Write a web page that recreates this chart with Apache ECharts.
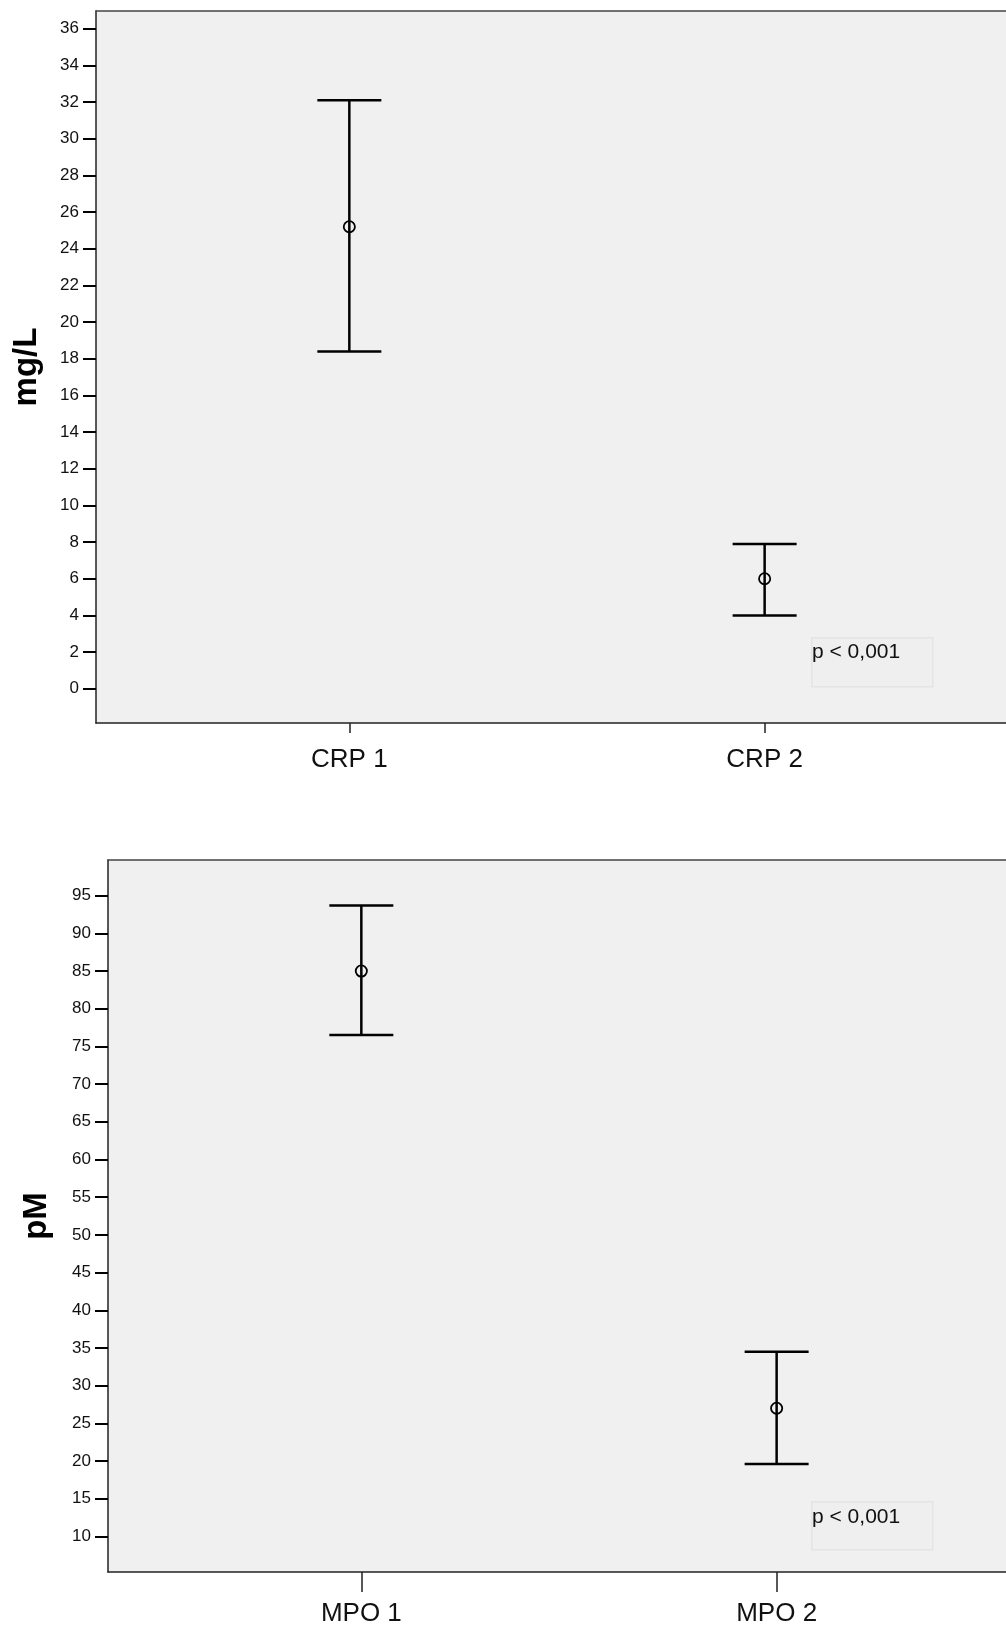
<!DOCTYPE html>
<html>
<head>
<meta charset="utf-8">
<script src="https://cdn.jsdelivr.net/npm/echarts@6/dist/echarts.min.js"></script>
<style>
html,body{margin:0;padding:0;background:#fff;}
#chart{width:1006px;height:1627px;}
</style>
</head>
<body>
<div id="chart"></div>
<script>
// ---- data ----
const crpCategories = ['CRP 1', 'CRP 2'];
const crpMean  = [25.2, 6.0];
const crpLower = [18.4, 4.0];
const crpUpper = [32.1, 7.9];
const crpTicks = [0, 2, 4, 6, 8, 10, 12, 14, 16, 18, 20, 22, 24, 26, 28, 30, 32, 34, 36];

const mpoCategories = ['MPO 1', 'MPO 2'];
const mpoMean  = [85.0, 27.0];
const mpoLower = [76.5, 19.6];
const mpoUpper = [93.7, 34.5];
const mpoTicks = [10, 15, 20, 25, 30, 35, 40, 45, 50, 55, 60, 65, 70, 75, 80, 85, 90, 95];

const pText = 'p < 0,001';
const crpName = 'mg/L';
const mpoName = 'pM';

// ---- build ----
const FONT = 'Liberation Sans, Arial, sans-serif';
const catPos = [1, 2];
const PX_PER_CAT = 415.3;

function rows(mean, lo, hi) {
  return mean.map((m, i) => [catPos[i], lo[i], hi[i], m]);
}

function renderErr(params, api) {
  const x = api.value(0);
  const top = api.coord([x, api.value(2)]);
  const bot = api.coord([x, api.value(1)]);
  const mid = api.coord([x, api.value(3)]);
  const hw = 32;
  const st = { stroke: '#000', lineWidth: 2.5, fill: null };
  return {
    type: 'group',
    children: [
      { type: 'line', shape: { x1: top[0], y1: top[1], x2: bot[0], y2: bot[1] }, style: st },
      { type: 'line', shape: { x1: top[0] - hw, y1: top[1], x2: top[0] + hw, y2: top[1] }, style: st },
      { type: 'line', shape: { x1: bot[0] - hw, y1: bot[1], x2: bot[0] + hw, y2: bot[1] }, style: st },
      { type: 'circle', shape: { cx: mid[0], cy: mid[1], r: 5.6 }, style: { stroke: '#000', lineWidth: 1.8, fill: 'rgba(0,0,0,0)' } }
    ]
  };
}

function xAxisCfg(gridIndex, cats, tickLen, margin, widthPx) {
  return {
    type: 'value', gridIndex: gridIndex, min: 0.39, max: 0.39 + widthPx / PX_PER_CAT,
    splitLine: { show: false },
    axisLine: { show: true, onZero: false, lineStyle: { color: '#222', width: 1.5 } },
    axisTick: { show: true, customValues: catPos, length: tickLen, lineStyle: { color: '#222', width: 1.5 } },
    axisLabel: { show: true, customValues: catPos, margin: margin, color: '#111', fontSize: 26, fontFamily: FONT,
      formatter: v => cats[Math.round(v) - 1] }
  };
}

function topAxisCfg(gridIndex, widthPx) {
  return {
    type: 'value', gridIndex: gridIndex, position: 'top', min: 0.39, max: 0.39 + widthPx / PX_PER_CAT,
    splitLine: { show: false },
    axisLine: { show: true, onZero: false, lineStyle: { color: '#444', width: 1.5 } },
    axisTick: { show: false }, axisLabel: { show: false }
  };
}

function yAxisCfg(gridIndex, min, max, ticks, name, gap) {
  return {
    type: 'value', gridIndex: gridIndex, min: min, max: max,
    name: name, nameLocation: 'middle', nameRotate: 90, nameGap: gap,
    nameTextStyle: { fontSize: 33, fontWeight: 'bold', color: '#000', fontFamily: FONT },
    splitLine: { show: false },
    axisLine: { show: true, onZero: false, lineStyle: { color: '#222', width: 1.5 } },
    axisTick: { show: true, customValues: ticks, length: 13, lineStyle: { color: '#000', width: 2 } },
    axisLabel: { show: true, customValues: ticks, margin: 17, color: '#111', fontSize: 17, fontFamily: FONT }
  };
}

const W1 = 1006 - 96, W2 = 1006 - 108;

const option = {
  backgroundColor: '#fff',
  animation: false,
  grid: [
    { left: 96, top: 11, right: 0, height: 712, show: true, backgroundColor: '#f0f0f0', borderWidth: 0 },
    { left: 108, top: 860, right: 0, height: 712, show: true, backgroundColor: '#f0f0f0', borderWidth: 0 }
  ],
  xAxis: [
    xAxisCfg(0, crpCategories, 10, 24, W1),
    xAxisCfg(1, mpoCategories, 20, 29, W2),
    topAxisCfg(0, W1),
    topAxisCfg(1, W2)
  ],
  yAxis: [
    yAxisCfg(0, -1.87, 36.97, crpTicks, crpName, 53),
    yAxisCfg(1, 5.28, 99.73, mpoTicks, mpoName, 55)
  ],
  series: [
    { type: 'custom', xAxisIndex: 0, yAxisIndex: 0, renderItem: renderErr, data: rows(crpMean, crpLower, crpUpper), clip: false },
    { type: 'custom', xAxisIndex: 1, yAxisIndex: 1, renderItem: renderErr, data: rows(mpoMean, mpoLower, mpoUpper), clip: false }
  ],
  graphic: [
    { type: 'rect', left: 811, top: 637, shape: { width: 121, height: 49 }, style: { fill: '#efefef', stroke: '#e4e4e4', lineWidth: 1.5 } },
    { type: 'text', left: 812, top: 642, style: { text: pText, fontSize: 21, fontFamily: FONT, fill: '#111' } },
    { type: 'rect', left: 811, top: 1501, shape: { width: 121, height: 48 }, style: { fill: '#efefef', stroke: '#e4e4e4', lineWidth: 1.5 } },
    { type: 'text', left: 812, top: 1507, style: { text: pText, fontSize: 21, fontFamily: FONT, fill: '#111' } }
  ]
};

const chart = echarts.init(document.getElementById('chart'), null, { renderer: 'canvas' });
chart.setOption(option);
</script>
</body>
</html>
